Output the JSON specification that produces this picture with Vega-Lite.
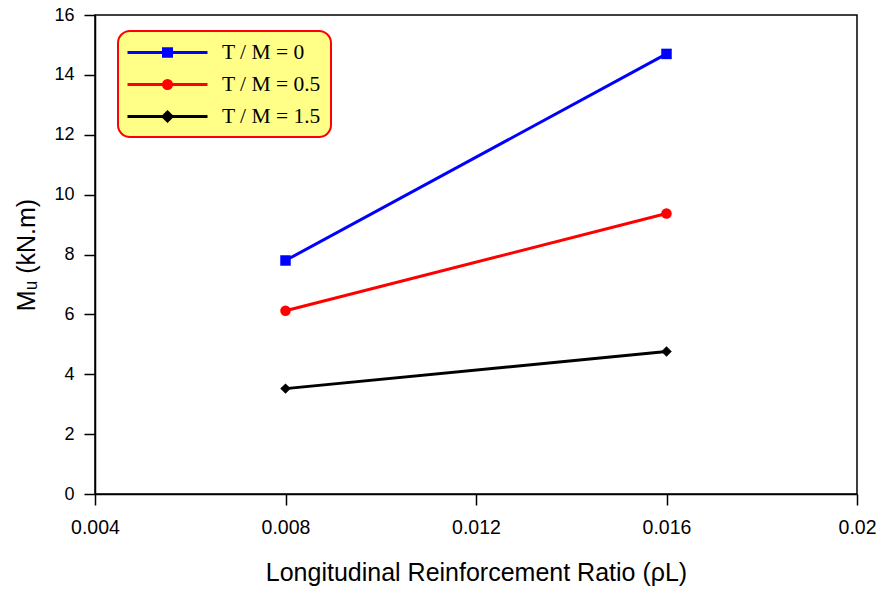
{
  "$schema": "https://vega.github.io/schema/vega-lite/v6.json",
  "autosize": {"type": "none"},
  "width": 762,
  "height": 479,
  "padding": {"left": 95, "top": 15, "right": 21, "bottom": 98},
  "background": "white",
  "config": {
    "view": {"stroke": "black", "strokeWidth": 1.5},
    "axis": {
      "grid": false,
      "domainColor": "black",
      "domainWidth": 1.5,
      "tickColor": "black",
      "tickWidth": 1.5,
      "tickSize": 11,
      "labelFont": "Liberation Sans",
      "labelFontSize": 18,
      "labelColor": "black",
      "labelFlush": false,
      "titleFont": "Liberation Sans",
      "titleFontSize": 25,
      "titleFontWeight": "normal",
      "titleColor": "black"
    }
  },
  "data": {
    "values": [
      {"rho": 0.008, "mu": 7.8, "s": "T / M = 0"},
      {"rho": 0.016, "mu": 14.7, "s": "T / M = 0"},
      {"rho": 0.008, "mu": 6.12, "s": "T / M = 0.5"},
      {"rho": 0.016, "mu": 9.37, "s": "T / M = 0.5"},
      {"rho": 0.008, "mu": 3.52, "s": "T / M = 1.5"},
      {"rho": 0.016, "mu": 4.76, "s": "T / M = 1.5"}
    ]
  },
  "encoding": {
    "x": {
      "field": "rho", "type": "quantitative",
      "scale": {"domain": [0.004, 0.02], "nice": false, "zero": false},
      "axis": {"values": [0.004, 0.008, 0.012, 0.016, 0.02], "format": "~f", "labelFontSize": 19.5, "labelPadding": 13, "title": "Longitudinal Reinforcement Ratio (ρL)", "titlePadding": 24}
    },
    "y": {
      "field": "mu", "type": "quantitative",
      "scale": {"domain": [0, 16], "nice": false},
      "axis": {"values": [0, 2, 4, 6, 8, 10, 12, 14, 16], "labelPadding": 10, "title": "Mᵤ  (kN.m)", "titlePadding": 14}
    },
    "color": {
      "field": "s", "type": "nominal",
      "scale": {"domain": ["T / M = 0", "T / M = 0.5", "T / M = 1.5"], "range": ["#0000FF", "#FF0000", "#000000"]},
      "legend": {
        "title": null,
        "orient": "none",
        "legendX": 23,
        "legendY": 16,
        "padding": 10,
        "cornerRadius": 12,
        "fillColor": "#FFFF88",
        "strokeColor": "#FF0000",
        "labelFont": "Liberation Serif",
        "labelFontSize": 21.5,
        "labelColor": "black",
        "labelOffset": 71,
        "rowPadding": 10,
        "symbolSize": 400,
        "encode": {
          "legend": {"update": {"strokeWidth": {"value": 2}}},
          "symbols": {
            "update": {
              "shape": {"signal": "datum.value == 'T / M = 0' ? 'M-1.2,0H6.8M2.4,-0.38H3.2V0.38H2.4Z' : datum.value == 'T / M = 0.5' ? 'M-1.2,0H6.8M3.2,0A0.4,0.4 0 1,1 2.4,0A0.4,0.4 0 1,1 3.2,0Z' : 'M-1.2,0H6.8M2.8,-0.45L3.25,0L2.8,0.45L2.35,0Z'"},
              "fill": {"signal": "scale('color', datum.value)"},
              "stroke": {"signal": "scale('color', datum.value)"},
              "strokeWidth": {"value": 3},
              "size": {"value": 400},
              "opacity": {"value": 1}
            }
          }
        }
      }
    }
  },
  "layer": [
    {"mark": {"type": "line", "strokeWidth": 3}},
    {
      "mark": {"type": "point", "filled": true, "opacity": 1},
      "encoding": {
        "shape": {
          "condition": [
            {"test": "datum.s == 'T / M = 0'", "value": "square"},
            {"test": "datum.s == 'T / M = 0.5'", "value": "circle"}
          ],
          "value": "diamond"
        },
        "size": {"value": 110}
      }
    }
  ]
}
